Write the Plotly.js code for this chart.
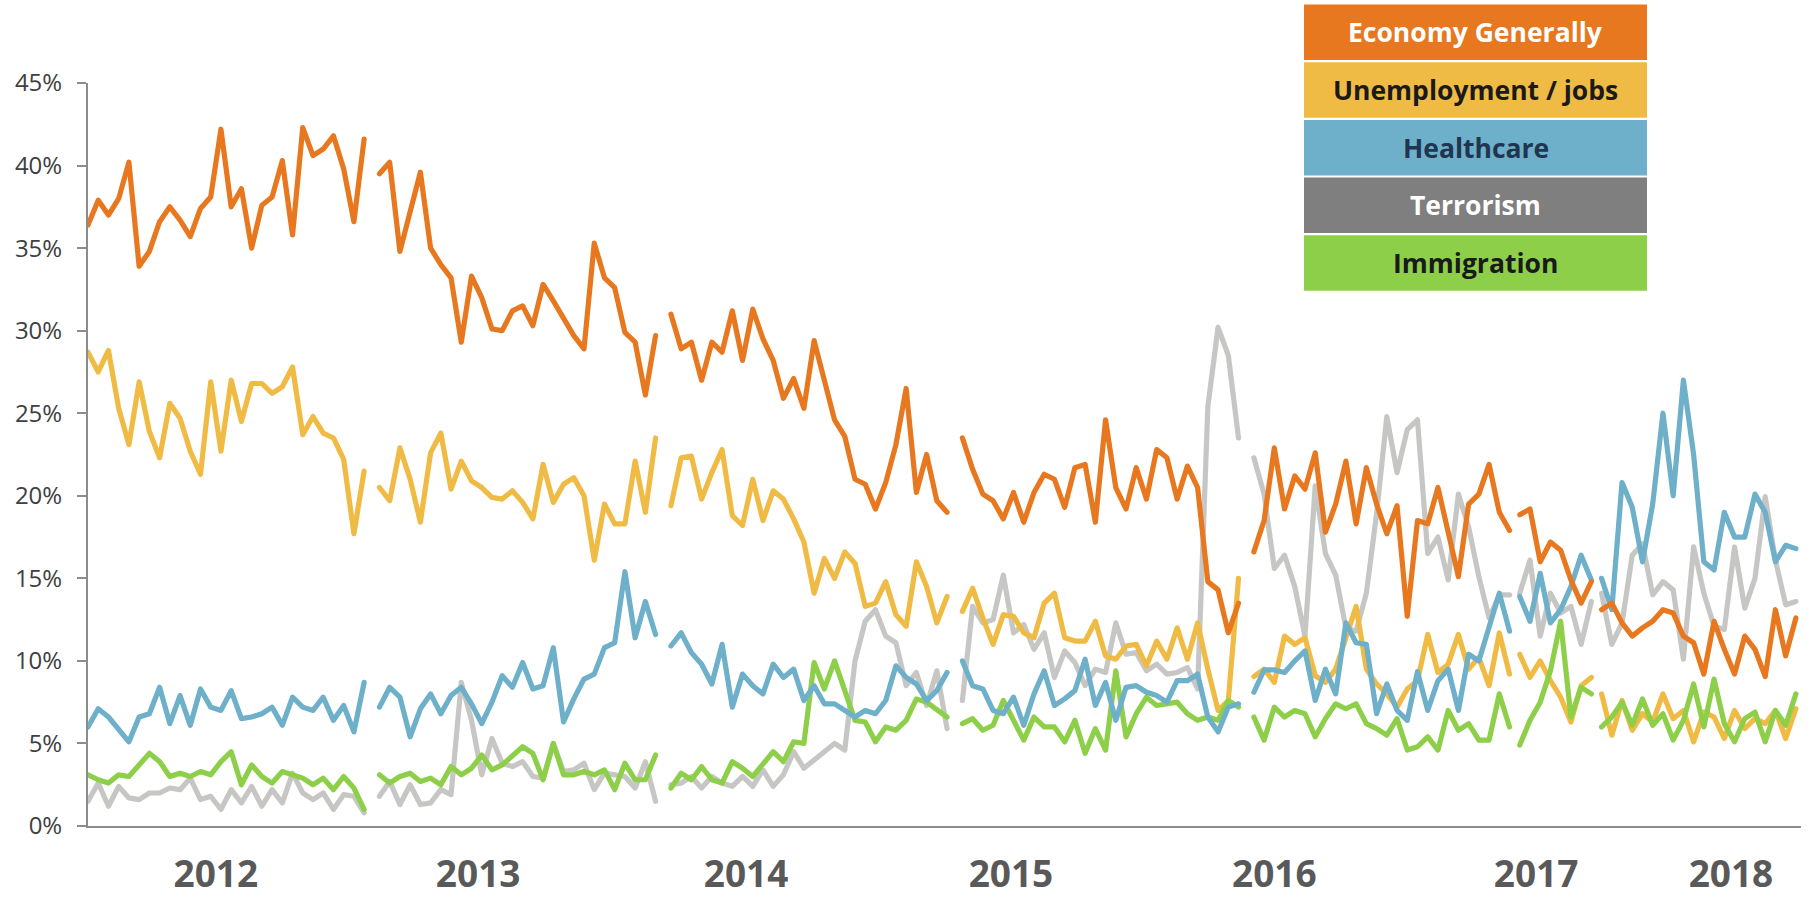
<!DOCTYPE html>
<html>
<head>
<meta charset="utf-8">
<script src="https://cdn.plot.ly/plotly-3.0.1.min.js"></script>
<style>html,body{margin:0;padding:0;background:#fff}#chart{width:1810px;height:898px}
#chart path.js-line{stroke-linejoin:round;stroke-linecap:round}</style>
</head>
<body>
<div id="chart"></div>
<script>
// Week index where each survey segment starts (segments separated by a missing week)
const weekStarts = [0, 57, 114, 171, 228, 280, 296];

// Year labels and where they sit on the week scale
const yearLabels = ['2012', '2013', '2014', '2015', '2016', '2017', '2018'];
const yearLabelWeeks = [25, 76.3, 128.7, 180.5, 232, 283.2, 321.3];

// Y-axis tick values and labels
const yTickVals = [0, 5, 10, 15, 20, 25, 30, 35, 40, 45];
const yTickText = ['0%', '5%', '10%', '15%', '20%', '25%', '30%', '35%', '40%', '45%'];

// Series values (% of respondents), roughly bi-weekly, null = gap between segments
const economy = [
  36.4, 37.9, 37.0, 38.0, 40.2, 33.9, 34.8, 36.6, 37.5, 36.7, 35.7, 37.4, 38.1, 42.2, 37.5, 38.6, 35.0, 37.6, 38.1, 40.3, 35.8, 42.3, 40.6, 41.0, 41.8, 39.8, 36.6, 41.6,
  null,
  39.5, 40.2, 34.8, 37.2, 39.6, 35.0, 34.0, 33.2, 29.3, 33.3, 32.0, 30.1, 30.0, 31.2, 31.5, 30.3, 32.8, 31.8, 30.7, 29.7, 28.9, 35.3, 33.2, 32.6, 29.9, 29.3, 26.1, 29.7,
  null,
  31.0, 28.9, 29.3, 27.0, 29.3, 28.7, 31.2, 28.2, 31.3, 29.5, 28.2, 25.9, 27.1, 25.3, 29.4, 27.0, 24.6, 23.6, 21.0, 20.7, 19.2, 20.8, 23.1, 26.5, 20.2, 22.5, 19.7, 19.0,
  null,
  23.5, 21.6, 20.1, 19.7, 18.6, 20.2, 18.4, 20.2, 21.3, 21.0, 19.3, 21.7, 21.9, 18.4, 24.6, 20.5, 19.2, 21.7, 19.8, 22.8, 22.3, 19.8, 21.8, 20.5, 14.8, 14.3, 11.7, 13.5,
  null,
  16.6, 18.5, 22.9, 19.2, 21.2, 20.4, 22.6, 17.8, 19.5, 22.1, 18.3, 21.7, 19.5, 17.7, 19.4, 12.7, 18.5, 18.3, 20.5, 17.8, 15.1, 19.5, 20.1, 21.9, 19.0, 17.9,
  null,
  18.85, 19.2, 16.0, 17.2, 16.7, 14.9, 13.5, 14.8,
  null,
  13.1, 13.5, 12.3, 11.5, 12.0, 12.4, 13.1, 12.9, 11.5, 11.1, 9.2, 12.4, 10.7, 9.2, 11.5, 10.7, 9.05, 13.1, 10.3, 12.6
];

const unemployment = [
  28.7, 27.5, 28.8, 25.3, 23.1, 26.9, 23.9, 22.3, 25.6, 24.7, 22.7, 21.3, 26.9, 22.7, 27.0, 24.5, 26.8, 26.8, 26.2, 26.6, 27.8, 23.7, 24.8, 23.8, 23.5, 22.2, 17.7, 21.5,
  null,
  20.5, 19.7, 22.9, 21.0, 18.4, 22.6, 23.8, 20.4, 22.1, 20.9, 20.5, 19.9, 19.8, 20.3, 19.6, 18.6, 21.9, 19.6, 20.7, 21.1, 20.0, 16.1, 19.5, 18.3, 18.3, 22.1, 19.0, 23.5,
  null,
  19.4, 22.3, 22.4, 19.8, 21.4, 22.8, 18.8, 18.2, 21.0, 18.5, 20.3, 19.8, 18.6, 17.2, 14.1, 16.2, 15.0, 16.6, 15.9, 13.3, 13.5, 14.8, 12.8, 12.1, 16.0, 14.5, 12.3, 13.9,
  null,
  13.0, 14.4, 12.6, 11.0, 12.8, 12.7, 11.7, 11.4, 13.5, 14.1, 11.4, 11.2, 11.2, 12.4, 10.3, 10.1, 10.9, 11.0, 9.7, 11.2, 10.1, 12.0, 10.1, 12.3, 9.5, 7.0, 7.6, 15.0,
  null,
  9.05, 9.5, 8.7, 11.5, 11.0, 11.4, 9.1, 8.7, 9.5, 11.5, 13.3, 9.5, 8.6, 8.0, 7.2, 8.3, 8.8, 11.6, 9.3, 9.8, 11.6, 9.5, 10.2, 8.5, 11.7, 9.2,
  null,
  10.4, 9.0, 10.0, 8.8, 7.8, 6.3, 8.5, 9.0,
  null,
  8.0, 5.5, 7.6, 5.8, 6.8, 6.3, 8.0, 6.5, 7.0, 5.1, 6.9, 6.6, 5.3, 7.0, 5.9, 6.5, 6.2, 7.0, 5.3, 7.1
];

const healthcare = [
  6.0, 7.1, 6.6, 5.8, 5.1, 6.6, 6.8, 8.4, 6.2, 7.9, 6.1, 8.3, 7.2, 7.0, 8.2, 6.5, 6.6, 6.8, 7.2, 6.1, 7.8, 7.2, 7.0, 7.8, 6.4, 7.3, 5.7, 8.7,
  null,
  7.2, 8.4, 7.8, 5.4, 7.1, 8.0, 6.8, 7.9, 8.4, 7.4, 6.2, 7.5, 9.1, 8.4, 9.9, 8.3, 8.5, 10.8, 6.3, 7.7, 8.9, 9.2, 10.8, 11.1, 15.4, 11.4, 13.6, 11.6,
  null,
  10.9, 11.7, 10.5, 9.8, 8.6, 11.0, 7.2, 9.2, 8.5, 8.0, 9.8, 9.0, 9.5, 7.6, 8.5, 7.4, 7.4, 7.0, 6.6, 7.0, 6.8, 7.6, 9.7, 9.0, 8.6, 7.6, 8.2, 9.3,
  null,
  10.0, 8.5, 8.3, 7.0, 6.8, 7.8, 6.1, 8.0, 9.4, 7.3, 7.7, 8.2, 10.1, 7.3, 8.7, 6.4, 8.4, 8.5, 8.1, 7.9, 7.5, 8.8, 8.8, 9.2, 6.6, 5.7, 7.2, 7.4,
  null,
  8.1, 9.45, 9.45, 9.3, 10.0, 10.6, 7.6, 9.5, 8.0, 12.3, 11.1, 11.0, 6.8, 8.6, 7.0, 6.4, 9.35, 7.0, 8.8, 9.5, 7.0, 10.4, 10.0, 12.0, 14.1, 11.8,
  null,
  13.9, 12.4, 15.3, 12.3, 13.1, 14.5, 16.4, 14.9,
  null,
  15.0, 13.1, 20.8, 19.3, 16.0, 19.5, 25.0, 20.0, 27.0, 22.5, 16.0, 15.5, 19.0, 17.5, 17.5, 20.1, 19.0, 16.0, 17.0, 16.8
];

const terrorism = [
  1.5, 2.6, 1.2, 2.4, 1.7, 1.6, 2.0, 2.0, 2.3, 2.2, 2.9, 1.6, 1.8, 1.0, 2.2, 1.4, 2.4, 1.2, 2.2, 1.4, 3.2, 2.0, 1.6, 2.0, 1.0, 1.9, 1.8, 0.8,
  null,
  1.8, 2.7, 1.3, 2.5, 1.3, 1.4, 2.2, 1.9, 8.7, 6.4, 3.1, 5.3, 3.8, 3.6, 3.9, 3.0, 2.9, 5.0, 3.3, 3.4, 3.8, 2.2, 3.2, 3.1, 3.0, 2.3, 3.9, 1.5,
  null,
  2.5, 2.6, 3.0, 2.3, 3.0, 2.6, 2.4, 3.0, 2.4, 3.4, 2.4, 3.1, 4.5, 3.5, 4.0, 4.5, 5.0, 4.6, 10.0, 12.4, 13.1, 11.5, 11.1, 8.5, 9.3, 7.3, 9.4, 5.9,
  null,
  7.6, 13.3, 12.3, 12.5, 15.2, 11.7, 12.2, 10.7, 11.7, 9.0, 10.6, 9.9, 8.5, 9.5, 9.3, 12.3, 10.4, 10.5, 9.4, 9.8, 9.2, 9.3, 9.6, 8.3, 25.4, 30.2, 28.5, 23.5,
  null,
  22.3, 20.1, 15.6, 16.4, 14.5, 11.5, 20.6, 16.5, 15.2, 12.0, 11.8, 14.1, 18.9, 24.8, 21.4, 24.0, 24.6, 16.5, 17.5, 14.9, 20.1, 18.1, 15.1, 12.6, 14.0, 14.0,
  null,
  14.1, 16.1, 11.5, 14.1, 12.9, 13.3, 11.0, 13.6,
  null,
  14.1, 11.0, 12.3, 16.4, 17.1, 14.0, 14.8, 14.3, 10.1, 16.9, 14.1, 12.1, 11.9, 16.9, 13.2, 15.0, 19.95, 16.1, 13.4, 13.6
];

const immigration = [
  3.1, 2.8, 2.6, 3.1, 3.0, 3.7, 4.4, 3.9, 3.0, 3.2, 3.0, 3.3, 3.1, 3.9, 4.5, 2.5, 3.7, 3.0, 2.6, 3.3, 3.1, 2.9, 2.5, 2.9, 2.2, 3.0, 2.3, 1.0,
  null,
  3.1, 2.6, 3.0, 3.2, 2.7, 2.9, 2.5, 3.6, 3.1, 3.5, 4.3, 3.4, 3.7, 4.2, 4.8, 4.4, 2.8, 5.0, 3.1, 3.1, 3.3, 3.1, 3.4, 2.2, 3.8, 2.8, 2.8, 4.3,
  null,
  2.3, 3.2, 2.8, 3.6, 2.8, 2.6, 3.9, 3.5, 3.0, 3.8, 4.5, 3.9, 5.1, 5.0, 9.9, 8.3, 10.0, 8.2, 6.4, 6.3, 5.1, 6.0, 5.8, 6.4, 7.7, 7.5, 7.0, 6.6,
  null,
  6.2, 6.5, 5.8, 6.1, 7.6, 6.4, 5.2, 6.6, 6.0, 6.0, 5.1, 6.4, 4.4, 5.9, 4.6, 9.4, 5.4, 6.8, 7.8, 7.3, 7.4, 7.5, 6.8, 6.4, 6.6, 6.4, 7.6, 7.2,
  null,
  6.6, 5.2, 7.2, 6.6, 7.0, 6.8, 5.4, 6.5, 7.4, 7.1, 7.4, 6.2, 5.9, 5.5, 6.5, 4.6, 4.8, 5.4, 4.6, 7.0, 5.8, 6.2, 5.2, 5.2, 8.0, 6.0,
  null,
  4.9, 6.4, 7.5, 9.4, 12.4, 6.6, 8.4, 8.0,
  null,
  6.0, 6.6, 7.5, 6.1, 7.7, 6.1, 6.8, 5.2, 6.4, 8.6, 6.0, 8.9, 6.2, 5.1, 6.5, 6.9, 5.1, 7.0, 6.1, 8.0
];

const seriesNames = ['Economy Generally', 'Unemployment / jobs', 'Healthcare', 'Terrorism', 'Immigration'];

// ---------- build chart ----------
function buildX(values) {
  const xs = [];
  let seg = 0, w = weekStarts[0];
  for (const v of values) {
    if (v === null) { xs.push(w - 1); seg++; w = weekStarts[seg]; }
    else { xs.push(w); w += 2; }
  }
  return xs;
}

const colors = {
  economy: '#E8781F',
  unemployment: '#F0BB45',
  healthcare: '#6EB0C9',
  terrorism: '#C6C6C4',
  immigration: '#8ECF4A'
};

function lineTrace(name, y, color) {
  return {
    type: 'scatter', mode: 'lines', name: name,
    x: buildX(y), y: y,
    connectgaps: false,
    line: { color: color, width: 5.2, shape: 'linear' },
    hoverinfo: 'skip'
  };
}

// draw order: grey first (bottom), orange last (top)
const traces = [
  lineTrace(seriesNames[3], terrorism, colors.terrorism),
  lineTrace(seriesNames[1], unemployment, colors.unemployment),
  lineTrace(seriesNames[4], immigration, colors.immigration),
  lineTrace(seriesNames[2], healthcare, colors.healthcare),
  lineTrace(seriesNames[0], economy, colors.economy)
];

// pixel -> paper helpers for the custom legend block
const W = 1810, H = 898;
const M = { l: 88, r: 9, t: 83, b: 72 };
const PW = W - M.l - M.r, PH = H - M.t - M.b;
const px = x => (x - M.l) / PW;
const py = y => (H - M.b - y) / PH;

const legendRows = [
  { text: seriesNames[0], bg: '#E8781F', fg: '#FFFFFF' },
  { text: seriesNames[1], bg: '#F0BB45', fg: '#1A1A1A' },
  { text: seriesNames[2], bg: '#6EB0C9', fg: '#1F3550' },
  { text: seriesNames[3], bg: '#7F7F7F', fg: '#FFFFFF' },
  { text: seriesNames[4], bg: '#8ECF4A', fg: '#1A1A1A' }
];
const legX0 = 1304, legX1 = 1647, legY0 = 4.5, rowPitch = 57.7, rowH = 55.5;

const shapes = [], annotations = [];
legendRows.forEach((r, i) => {
  const top = legY0 + i * rowPitch, bot = top + rowH;
  shapes.push({
    type: 'rect', xref: 'paper', yref: 'paper', layer: 'above',
    x0: px(legX0), x1: px(legX1), y0: py(bot), y1: py(top),
    fillcolor: r.bg, line: { width: 0 }
  });
  annotations.push({
    xref: 'paper', yref: 'paper', x: px((legX0 + legX1) / 2), y: py((top + bot) / 2),
    xanchor: 'center', yanchor: 'middle', showarrow: false,
    text: '<b>' + r.text + '</b>',
    font: { family: 'Open Sans, sans-serif', size: 26.5, color: r.fg }
  });
});

const layout = {
  width: W, height: H,
  margin: M,
  paper_bgcolor: '#FFFFFF', plot_bgcolor: '#FFFFFF',
  showlegend: false,
  xaxis: {
    range: [0, 335],
    tickmode: 'array', tickvals: yearLabelWeeks, ticktext: yearLabels,
    ticks: '', showgrid: false, zeroline: false,
    showline: true, linecolor: '#8C8C8C', linewidth: 2,
    ticklabelstandoff: 15,
    tickfont: { family: 'Open Sans, sans-serif', size: 37, color: '#595959', weight: 'bold' },
    fixedrange: true
  },
  yaxis: {
    range: [0, 45],
    tickmode: 'array', tickvals: yTickVals, ticktext: yTickText,
    ticks: 'outside', ticklen: 9, tickwidth: 2, tickcolor: '#8C8C8C',
    showgrid: false, zeroline: false,
    showline: true, linecolor: '#8C8C8C', linewidth: 2,
    ticklabelstandoff: 10,
    tickfont: { family: 'Open Sans, sans-serif', size: 24, color: '#404040' },
    fixedrange: true
  },
  shapes: shapes,
  annotations: annotations
};

Plotly.newPlot('chart', traces, layout, { displayModeBar: false, staticPlot: true });
</script>
</body>
</html>
